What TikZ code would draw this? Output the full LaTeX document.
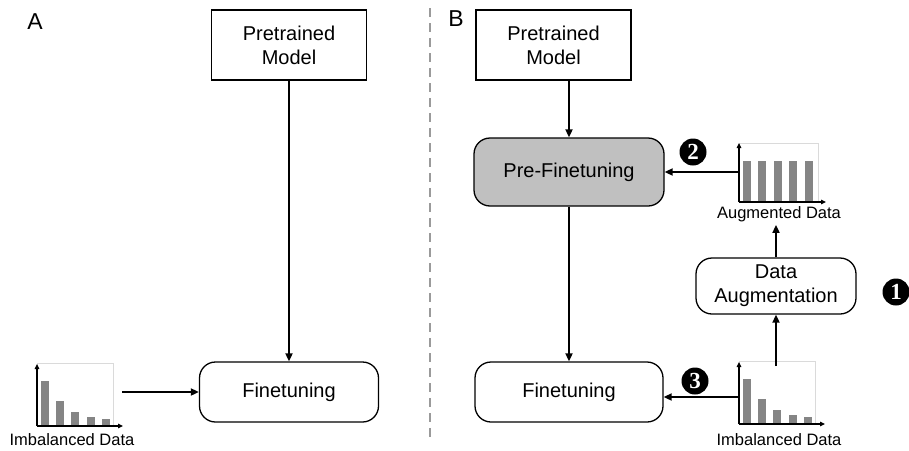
\documentclass[tikz,border=0pt]{standalone}
\usepackage{fontspec}
\setmainfont{Liberation Sans}
\newfontfamily\badgefont{Liberation Serif}
\usetikzlibrary{arrows.meta}
\definecolor{barcol}{HTML}{858585}
\definecolor{framecol}{HTML}{DADADA}
\definecolor{pfill}{HTML}{C0C0C0}
\definecolor{dashcol}{HTML}{9A9A9A}
\tikzset{
  box/.style={draw, line width=1.3pt, minimum width=#1, align=center, inner sep=0pt, font=\fontsize{20}{24}\selectfont},
  rbox/.style={box=#1, rounded corners=16pt},
  arr/.style={line width=1.8pt, -{Triangle[length=8pt,width=7pt]}},
  axarr/.style={line width=1.2pt, -{Triangle[length=5pt,width=4.5pt]}},
  badge/.style={circle, fill=black, text=white, minimum size=27pt, inner sep=0pt, font=\badgefont\bfseries\fontsize{23}{23}\selectfont},
  chartlbl/.style={font=\fontsize{16.5}{18}\selectfont, inner sep=0pt},
  chartbox/.style={minimum width=#1, inner sep=0pt, outer sep=0pt},
  panel/.style={font=\fontsize{23}{23}\selectfont, inner sep=0pt},
  pics/imbchart/.style={code={
    \draw[framecol, line width=0.6pt] (0,0) rectangle (76,-63);
    \foreach \xx/\hh in {4/45,19/25,34/14,50/9,65/7}{
      \fill[barcol] (\xx,0) rectangle ++(8,-\hh);
    }
    \draw[axarr] (0,0) -- (0,-62);
    \draw[axarr] (0,0) -- (86,0);
  }},
  pics/augchart/.style={code={
    \draw[framecol, line width=0.6pt] (0,0) rectangle (79,-59);
    \foreach \xx in {4,19,35,50,66}{
      \fill[barcol] (\xx,0) rectangle ++(8,-41);
    }
    \draw[axarr] (0,0) -- (0,-59);
    \draw[axarr] (0,0) -- (87,0);
  }}
}
\begin{document}
\begin{tikzpicture}[x=1pt,y=-1pt]
\useasboundingbox (0,0) rectangle (909,450);

% panel labels
\node[panel] (pA) at (35,22) {A};
\node[panel] (pB) at (456,19) {B};

% divider
\draw[dashcol, line width=1.6pt, dash pattern=on 9pt off 6pt] (430,8) -- (430,442);

% ---- panel A ----
\node[box=155pt, minimum height=70pt] (preA) at (289,45) {Pretrained\\Model};
\node[rbox=179pt, minimum height=60pt] (ftA) at (289,392) {Finetuning};
\node[chartbox=76pt, minimum height=63pt] (imbA) at (75,394.5) {};
\pic at (imbA.south west) {imbchart};
\node[chartlbl] (lblA) at (72,440) {Imbalanced Data};
\draw[arr] (preA.south) -- (ftA.north);
\draw[arr] ([xshift=9pt]imbA.east |- ftA.west) -- (ftA.west);

% ---- panel B ----
\node[box=155pt, minimum height=70pt] (preB) at (553.5,45) {Pretrained\\Model};
\node[rbox=190pt, minimum height=68pt, fill=pfill] (pft) at (569,172) {Pre-Finetuning};
\node[rbox=188pt, minimum height=60pt] (ftB) at (569,392) {Finetuning};
\node[rbox=160pt, minimum height=56pt] (aug) at (776,286) {Data\\Augmentation};

\node[chartbox=79pt, minimum height=59pt] (augC) at (778.5,172.5) {};
\pic at (augC.south west) {augchart};
\node[chartlbl] (lblAug) at (779,214) {Augmented Data};

\node[chartbox=76pt, minimum height=63pt] (imbB) at (777,392.5) {};
\pic at (imbB.south west) {imbchart};
\node[chartlbl] (lblB) at (779,440) {Imbalanced Data};

\draw[arr] (preB.south -| pft.north) -- (pft.north);
\draw[arr] (pft) -- (ftB);
\draw[arr] (augC.west |- pft.east) -- (pft.east);
\draw[arr] ([yshift=-5pt]imbB.west |- ftB.east) -- ([yshift=-5pt]ftB.east);
\draw[arr] ([yshift=-5pt]imbB.north -| aug.south) -- (aug.south);
\draw[arr] (aug.north) -- ([yshift=-3pt]aug.north |- lblAug.south);

\node[badge] (b2) at (693,152) {2};
\node[badge] (b1) at (896,292) {1};
\node[badge] (b3) at (695,381) {3};
\end{tikzpicture}
\end{document}
